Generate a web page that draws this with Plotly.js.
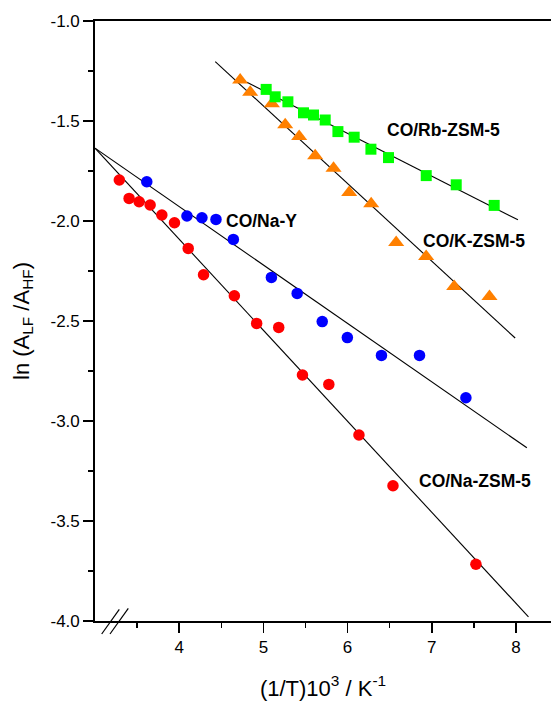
<!DOCTYPE html>
<html>
<head>
<meta charset="utf-8">
<script src="https://cdn.plot.ly/plotly-3.0.1.min.js"></script>
<style>html,body{margin:0;padding:0;background:#fff;}#chart{width:551px;height:704px;}</style>
</head>
<body>
<div id="chart"></div>
<script>
// ---- Data ----
// CO/Na-ZSM-5 (red circles)
const naZsmX = [3.289, 3.405, 3.524, 3.655, 3.794, 3.944, 4.107, 4.289, 4.655, 4.920, 5.182, 5.464, 5.777, 6.135, 6.539, 7.524];
const naZsmY = [-1.795, -1.887, -1.904, -1.920, -1.970, -2.009, -2.137, -2.269, -2.374, -2.512, -2.532, -2.770, -2.817, -3.070, -3.324, -3.716];
// CO/Na-Y (blue circles)
const naYX = [3.615, 4.092, 4.270, 4.437, 4.643, 5.095, 5.401, 5.699, 5.997, 6.402, 6.854, 7.405];
const naYY = [-1.804, -1.975, -1.984, -1.992, -2.092, -2.282, -2.362, -2.503, -2.583, -2.672, -2.672, -2.884];
// CO/K-ZSM-5 (orange triangles)
const kZsmX = [4.724, 4.843, 5.101, 5.259, 5.425, 5.615, 5.833, 6.019, 6.280, 6.577, 6.933, 7.266, 7.685];
const kZsmY = [-1.295, -1.356, -1.414, -1.519, -1.578, -1.674, -1.736, -1.858, -1.914, -2.108, -2.177, -2.327, -2.377];
// CO/Rb-ZSM-5 (green squares)
const rbZsmX = [5.033, 5.140, 5.291, 5.476, 5.595, 5.734, 5.885, 6.078, 6.277, 6.486, 6.934, 7.290, 7.741];
const rbZsmY = [-1.342, -1.379, -1.404, -1.459, -1.470, -1.495, -1.553, -1.581, -1.641, -1.683, -1.773, -1.819, -1.922];

// Linear fit lines (end points)
const fitNaZsmX = [3.0, 8.148];
const fitNaZsmY = [-1.636, -3.979];
const fitNaYX = [3.0, 8.129];
const fitNaYY = [-1.636, -3.134];
const fitKZsmX = [4.428, 7.990];
const fitKZsmY = [-1.203, -2.585];
const fitRbZsmX = [4.804, 8.023];
const fitRbZsmY = [-1.306, -1.994];

// Axis ticks
const xTickVals = [4, 5, 6, 7, 8];
const xTickText = ['4', '5', '6', '7', '8'];
const yTickVals = [-1.0, -1.5, -2.0, -2.5, -3.0, -3.5, -4.0];
const yTickText = ['-1.0', '-1.5', '-2.0', '-2.5', '-3.0', '-3.5', '-4.0'];

// Series labels
const seriesNames = ['CO/Na-ZSM-5', 'CO/Na-Y', 'CO/K-ZSM-5', 'CO/Rb-ZSM-5'];
const labelX = [7.512, 4.974, 7.496, 7.135];
const labelY = [-3.298, -1.999, -2.102, -1.544];

const FONT = 'Arial, "Liberation Sans", sans-serif';

function fit(x, y) {
  return {x: x, y: y, type: 'scatter', mode: 'lines', line: {color: '#000', width: 1.1}, hoverinfo: 'skip', showlegend: false};
}
function pts(x, y, color, symbol, size, name) {
  return {x: x, y: y, type: 'scatter', mode: 'markers', name: name,
    marker: {color: color, symbol: symbol, size: size, line: {width: 0}}, showlegend: false, cliponaxis: false};
}

const traces = [
  fit(fitNaZsmX, fitNaZsmY),
  fit(fitNaYX, fitNaYY),
  fit(fitKZsmX, fitKZsmY),
  fit(fitRbZsmX, fitRbZsmY),
  pts(naZsmX, naZsmY, '#ff0000', 'circle', 11.5, seriesNames[0]),
  pts(naYX, naYY, '#0000ff', 'circle', 11.5, seriesNames[1]),
  pts(kZsmX, kZsmY, '#ff8000', 'triangle-up', 14, seriesNames[2]),
  pts(rbZsmX, rbZsmY, '#00ff00', 'square', 11, seriesNames[3])
];

const annotations = seriesNames.map((t, i) => ({
  x: labelX[i], y: labelY[i], xref: 'x', yref: 'y', text: '<b>' + t + '</b>',
  showarrow: false, font: {family: FONT, size: 17.5, color: '#000'}, xanchor: 'center', yanchor: 'middle'
}));

const layout = {
  width: 551, height: 704,
  margin: {l: 95, r: 0, t: 21, b: 83},
  paper_bgcolor: '#fff', plot_bgcolor: '#fff',
  font: {family: FONT, color: '#000'},
  showlegend: false,
  xaxis: {
    range: [3, 8.4157], showgrid: false, zeroline: false,
    showline: true, linecolor: '#000', linewidth: 1.8, mirror: true,
    tickmode: 'array', tickvals: xTickVals, ticktext: xTickText,
    ticks: 'outside', ticklen: 10, tickwidth: 1.5, tickcolor: '#000',
    tickfont: {family: FONT, size: 17, color: '#000'},
    minor: {tickmode: 'linear', tick0: 3.5, dtick: 1, ticks: 'outside', ticklen: 5, tickwidth: 1.5, tickcolor: '#000', showgrid: false},
    title: {text: '(1/T)10<sup>3</sup> / K<sup>-1</sup>', font: {family: FONT, size: 22, color: '#000'}, standoff: 24}
  },
  yaxis: {
    range: [-4, -1], showgrid: false, zeroline: false,
    showline: true, linecolor: '#000', linewidth: 1.8,
    tickmode: 'array', tickvals: yTickVals, ticktext: yTickText,
    ticks: 'outside', ticklen: 10, tickwidth: 1.5, tickcolor: '#000',
    tickfont: {family: FONT, size: 17, color: '#000'},
    minor: {tickmode: 'linear', tick0: -1, dtick: 0.25, ticks: 'outside', ticklen: 5, tickwidth: 1.5, tickcolor: '#000', showgrid: false},
    title: {text: 'ln (A<sub>LF</sub> /A<sub>HF</sub>)', font: {family: FONT, size: 22, color: '#000'}, standoff: 15}
  },
  annotations: annotations,
  shapes: [
    {type: 'line', xref: 'paper', yref: 'paper', x0: 0.0147, y0: -0.0217, x1: 0.0533, y1: 0.0195, line: {color: '#000', width: 1.2}},
    {type: 'line', xref: 'paper', yref: 'paper', x0: 0.0329, y0: -0.0217, x1: 0.0730, y1: 0.0212, line: {color: '#000', width: 1.2}}
  ]
};

Plotly.newPlot('chart', traces, layout, {displayModeBar: false, staticPlot: true});
</script>
</body>
</html>
